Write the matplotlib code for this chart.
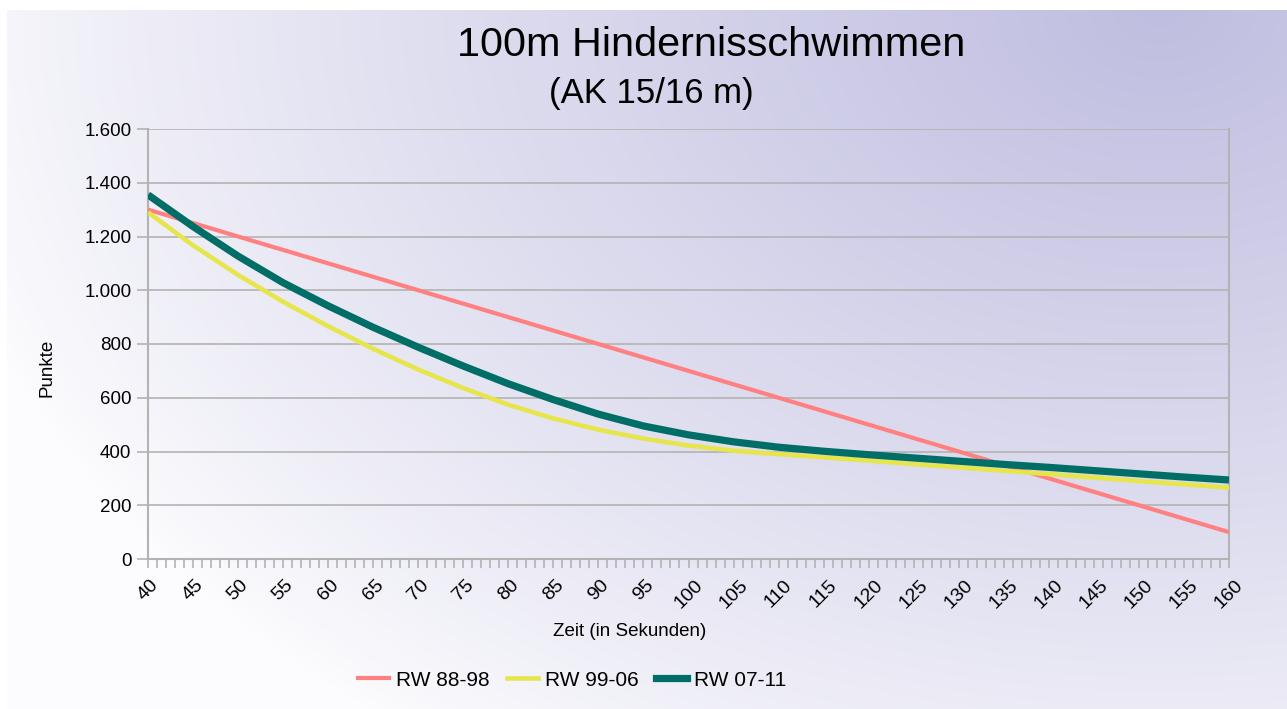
import numpy as np
import matplotlib
matplotlib.use('Agg')
import matplotlib.pyplot as plt
from matplotlib.ticker import MultipleLocator, FuncFormatter
from matplotlib.lines import Line2D

plt.rcParams['font.family'] = ['Liberation Sans', 'DejaVu Sans']

# Zeit in Sekunden
zeit = [40, 45, 50, 55, 60, 65, 70, 75, 80, 85, 90, 95, 100,
        105, 110, 115, 120, 125, 130, 135, 140, 145, 150, 155, 160]

rw_88_98 = [1300, 1250, 1200, 1150, 1100, 1050, 1000, 950, 900, 850, 800, 750, 700,
            650, 600, 550, 500, 450, 400, 350, 300, 250, 200, 150, 100]
rw_99_06 = [1290, 1167, 1057, 957, 866, 782, 705, 636, 574, 523, 481, 448, 422,
            403, 390, 378, 366, 353, 341, 328, 316, 303, 290, 278, 265]
rw_07_11 = [1355, 1237, 1127, 1028, 942, 862, 788, 718, 652, 593, 539, 495, 462,
            436, 416, 401, 388, 376, 364, 352, 341, 329, 317, 305, 294]

series_names = ['RW 88-98', 'RW 99-06', 'RW 07-11']
colors = ['#ff8080', '#e6e64c', '#006e66']
widths = [3.0, 3.3, 5.2]

W, H = 1287, 709
fig = plt.figure(figsize=(W / 100, H / 100), dpi=100)

# background gradient (white bottom/left -> lavender top right)
bg = fig.add_axes([0, 0, 1, 1])
yy, xx = np.mgrid[0:H, 0:W]
d = np.sqrt(((xx - 1160) / 1250.0) ** 2 + ((yy - 10) / 900.0) ** 2)
t = np.clip(1 - d, 0, 1) ** 0.85
white = np.array([252, 252, 254]) / 255.0
lav = np.array([192, 190, 224]) / 255.0
img = white[None, None, :] * (1 - t[..., None]) + lav[None, None, :] * t[..., None]
img[:10, :, :] = 1.0
img[:, :7, :] = 1.0
bg.imshow(img, extent=[0, W, H, 0], aspect='auto', interpolation='bilinear')
bg.set_xlim(0, W)
bg.set_ylim(H, 0)
bg.axis('off')
bg.set_zorder(0)

ax = fig.add_axes([148 / W, 1 - 559 / H, (1229 - 148) / W, (559 - 129) / H])
ax.set_zorder(1)
ax.patch.set_alpha(0)

grid_c = '#b3b3b3'
for y, c, lw, name in zip([rw_88_98, rw_99_06, rw_07_11], colors, widths, series_names):
    ax.plot(zeit, y, color=c, lw=lw, label=name, solid_capstyle='butt',
            solid_joinstyle='round', zorder=3)

ax.set_xlim(40, 160)
ax.set_ylim(0, 1600)
ax.yaxis.set_major_locator(MultipleLocator(200))
ax.yaxis.set_major_formatter(FuncFormatter(lambda v, p: f"{int(v):,}".replace(',', '.')))
ax.xaxis.set_major_locator(MultipleLocator(5))
ax.xaxis.set_minor_locator(MultipleLocator(1))
ax.grid(axis='y', color=grid_c, lw=1.2, zorder=1)
ax.set_axisbelow(True)

for s in ['left', 'bottom', 'right']:
    ax.spines[s].set_color(grid_c)
    ax.spines[s].set_linewidth(1.5)
ax.spines['top'].set_visible(False)

ax.tick_params(axis='y', length=8, width=1.2, color=grid_c, labelsize=13.5, pad=4)
ax.tick_params(axis='x', which='both', length=6.5, width=1.2, color=grid_c,
               labelsize=14, pad=6)
for lab in ax.get_xticklabels():
    lab.set_rotation(45)
    lab.set_ha('center')
    lab.set_va('top')

fig.text(711 / W, 1 - 45 / H, '100m Hindernisschwimmen', fontsize=29.8,
         ha='center', va='center')
fig.text(651 / W, 1 - 94 / H, '(AK 15/16 m)', fontsize=25,
         ha='center', va='center')
fig.text(630 / W, 1 - 631 / H, 'Zeit (in Sekunden)', fontsize=13.5,
         ha='center', va='center')
fig.text(47 / W, 1 - 368 / H, 'Punkte', fontsize=13.5, rotation=90,
         ha='center', va='center')

handles = [Line2D([], [], color=c, lw=lw) for c, lw in zip(colors, widths)]
fig.legend(handles, series_names, loc='center', bbox_to_anchor=(572 / W, 1 - 680 / H),
           ncol=3, frameon=False, fontsize=15, handlelength=1.5, handletextpad=0.35,
           columnspacing=0.8)

fig.savefig('out.png', dpi=100)
